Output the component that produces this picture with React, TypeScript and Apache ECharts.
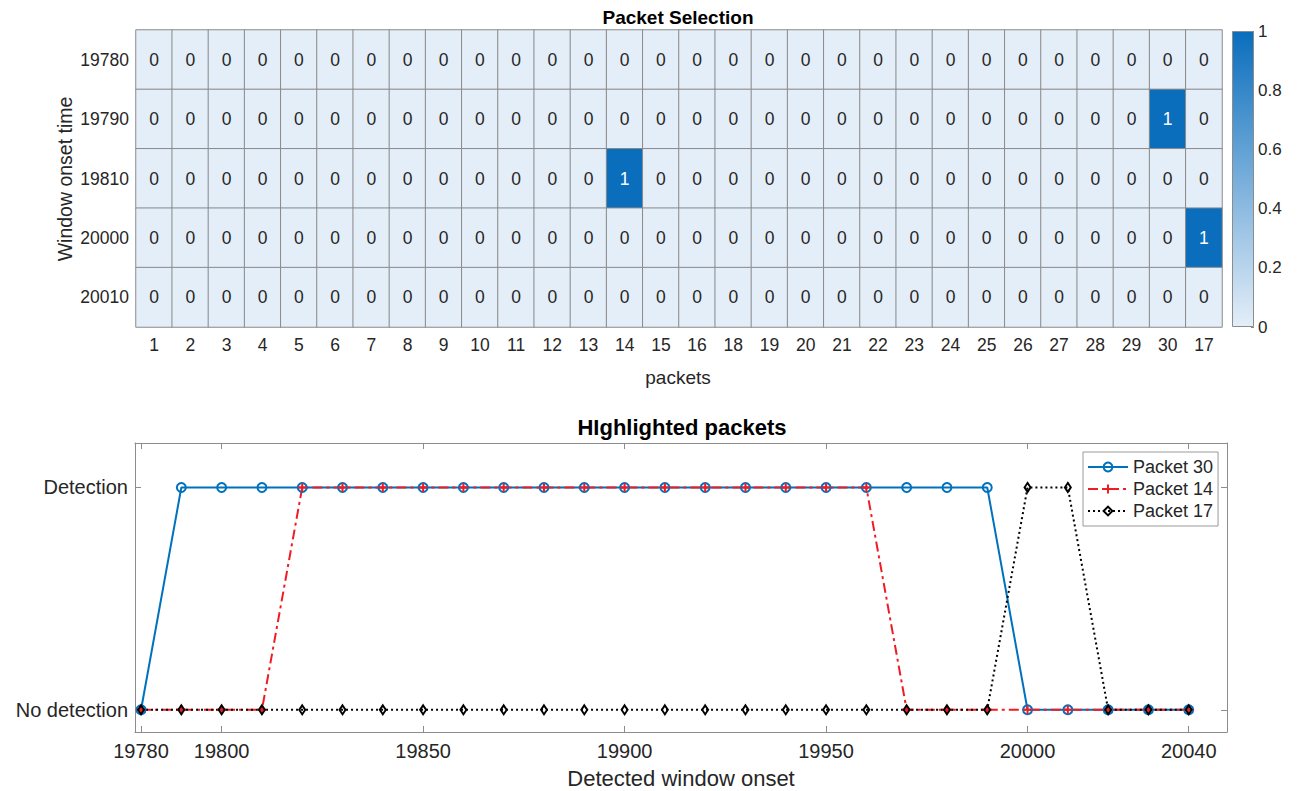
import React, { useEffect, useRef } from "react";
import * as echarts from "echarts";

// ---------- Data ----------
const packetLabels = [
  "1", "2", "3", "4", "5", "6", "7", "8", "9", "10",
  "11", "12", "13", "14", "15", "16", "18", "19", "20", "21",
  "22", "23", "24", "25", "26", "27", "28", "29", "30", "17",
];
const onsetRows = ["19780", "19790", "19810", "20000", "20010"];

const sel19780 = [0,0,0,0,0,0,0,0,0,0, 0,0,0,0,0,0,0,0,0,0, 0,0,0,0,0,0,0,0,0,0];
const sel19790 = [0,0,0,0,0,0,0,0,0,0, 0,0,0,0,0,0,0,0,0,0, 0,0,0,0,0,0,0,0,1,0];
const sel19810 = [0,0,0,0,0,0,0,0,0,0, 0,0,0,1,0,0,0,0,0,0, 0,0,0,0,0,0,0,0,0,0];
const sel20000 = [0,0,0,0,0,0,0,0,0,0, 0,0,0,0,0,0,0,0,0,0, 0,0,0,0,0,0,0,0,0,1];
const sel20010 = [0,0,0,0,0,0,0,0,0,0, 0,0,0,0,0,0,0,0,0,0, 0,0,0,0,0,0,0,0,0,0];
const selectionRows = [sel19780, sel19790, sel19810, sel20000, sel20010];

const colorbarRange = [0, 1];
const colorbarTicks = 0.2;

const onsetTimes = [
  19780, 19790, 19800, 19810, 19820, 19830, 19840, 19850, 19860, 19870,
  19880, 19890, 19900, 19910, 19920, 19930, 19940, 19950, 19960, 19970,
  19980, 19990, 20000, 20010, 20020, 20030, 20040,
];
const packet30 = [0, 1,1,1,1,1,1,1,1,1, 1,1,1,1,1,1,1,1,1,1, 1,1, 0,0,0,0,0];
const packet14 = [0,0,0,0, 1,1,1,1,1,1, 1,1,1,1,1,1,1,1,1, 0, 0,0,0,0,0,0,0];
const packet17 = [0,0,0,0,0,0,0,0,0,0, 0,0,0,0,0,0,0,0,0,0, 0,0, 1,1, 0,0,0];

const xTickValues = [19780, 19800, 19850, 19900, 19950, 20000, 20040];
const yTickValues = [0, 1];
const yTickNames = ["No detection", "Detection"];

// ---------- Styles ----------
const FONT = "'Liberation Sans', Arial, Helvetica, sans-serif";
const LIGHT = "#e4eef8";
const DARK = "#0a6ebd";
const AXIS_GRAY = "#8c8c8c";
const TEXT = "#262626";

export default function App() {
  const ref = useRef<HTMLDivElement>(null);

  useEffect(() => {
    if (!ref.current) return;
    const chart = echarts.init(ref.current, undefined, { renderer: "svg" });

    const heatData: any[] = [];
    selectionRows.forEach((row, r) => {
      row.forEach((v, c) => {
        heatData.push({
          value: [c, r, v],
          label: { color: v === 1 ? "#ffffff" : TEXT },
        });
      });
    });

    const xFmt = (v: number) => String(v);
    const yFmt = (v: number) => {
      const i = yTickValues.indexOf(v);
      return i >= 0 ? yTickNames[i] : "";
    };

    const option: any = {
      animation: false,
      textStyle: { fontFamily: FONT },
      grid: [
        { left: 136, top: 30, width: 1086, height: 297 },
        { left: 135, top: 443, width: 1092, height: 289 },
        { left: 1232, top: 31, width: 22, height: 296 },
      ],
      visualMap: {
        show: false,
        min: colorbarRange[0],
        max: colorbarRange[1],
        seriesIndex: 0,
        dimension: 2,
        inRange: { color: [LIGHT, DARK] },
      },
      legend: {
        orient: "vertical",
        left: 1083,
        top: 452,
        padding: [6, 5, 6, 4],
        itemGap: 4,
        itemWidth: 40,
        itemHeight: 11,
        borderColor: "#9a9a9a",
        borderWidth: 1,
        backgroundColor: "#ffffff",
        textStyle: { fontSize: 18, color: TEXT, fontFamily: FONT },
        data: ["Packet 30", "Packet 14", "Packet 17"],
      },
      xAxis: [
        {
          type: "category",
          gridIndex: 0,
          data: packetLabels,
          axisLine: { show: false },
          axisTick: { show: false },
          axisLabel: { interval: 0, fontSize: 17.5, color: TEXT, margin: 9, fontFamily: FONT },
          splitLine: { show: false },
        },
        {
          type: "value",
          gridIndex: 1,
          position: "bottom",
          min: 19778.5,
          max: 20049.5,
          axisLine: { show: true, onZero: false, lineStyle: { color: AXIS_GRAY, width: 1 } },
          axisTick: { show: true, inside: true, length: 6, customValues: xTickValues, lineStyle: { color: AXIS_GRAY } },
          axisLabel: { customValues: xTickValues, formatter: xFmt, fontSize: 20, color: TEXT, margin: 9, fontFamily: FONT },
          splitLine: { show: false },
        },
        {
          type: "value",
          gridIndex: 1,
          position: "top",
          min: 19778.5,
          max: 20049.5,
          axisLine: { show: true, onZero: false, lineStyle: { color: AXIS_GRAY, width: 1 } },
          axisTick: { show: true, inside: true, length: 6, customValues: xTickValues, lineStyle: { color: AXIS_GRAY } },
          axisLabel: { show: false, customValues: xTickValues },
          splitLine: { show: false },
        },
        {
          type: "category",
          gridIndex: 2,
          data: ["colorbar"],
          show: false,
        },
      ],
      yAxis: [
        {
          type: "category",
          gridIndex: 0,
          data: onsetRows,
          inverse: true,
          axisLine: { show: false },
          axisTick: { show: false },
          axisLabel: { fontSize: 17.5, color: TEXT, margin: 7, fontFamily: FONT },
          splitLine: { show: false },
        },
        {
          type: "value",
          gridIndex: 1,
          position: "left",
          min: -0.1,
          max: 1.2,
          axisLine: { show: true, onZero: false, lineStyle: { color: AXIS_GRAY, width: 1 } },
          axisTick: { show: true, inside: true, length: 6, customValues: yTickValues, lineStyle: { color: AXIS_GRAY } },
          axisLabel: { customValues: yTickValues, formatter: yFmt, fontSize: 20, color: TEXT, margin: 7, fontFamily: FONT },
          splitLine: { show: false },
        },
        {
          type: "value",
          gridIndex: 1,
          position: "right",
          min: -0.1,
          max: 1.2,
          axisLine: { show: true, onZero: false, lineStyle: { color: AXIS_GRAY, width: 1 } },
          axisTick: { show: true, inside: true, length: 6, customValues: yTickValues, lineStyle: { color: AXIS_GRAY } },
          axisLabel: { show: false, customValues: yTickValues },
          splitLine: { show: false },
        },
        {
          type: "value",
          gridIndex: 2,
          position: "right",
          min: colorbarRange[0],
          max: colorbarRange[1],
          interval: colorbarTicks,
          axisLine: { show: false },
          axisTick: { show: true, inside: true, length: 3, lineStyle: { color: AXIS_GRAY } },
          axisLabel: { fontSize: 17, color: TEXT, margin: 4, fontFamily: FONT },
          splitLine: { show: false },
        },
      ],
      series: [
        {
          type: "heatmap",
          xAxisIndex: 0,
          yAxisIndex: 0,
          data: heatData,
          label: { show: true, fontSize: 17.5, fontFamily: FONT },
          itemStyle: { borderColor: "#8a8a8a", borderWidth: 1 },
          emphasis: { disabled: true },
          silent: true,
        },
        {
          name: "Packet 30",
          type: "line",
          xAxisIndex: 1,
          yAxisIndex: 1,
          data: onsetTimes.map((t, i) => [t, packet30[i]]),
          symbol: "circle",
          symbolSize: 9,
          color: "#0072BD",
          lineStyle: { color: "#0072BD", width: 2 },
          itemStyle: { color: "rgba(255,255,255,0)", borderColor: "#0072BD", borderWidth: 2 },
          emphasis: { disabled: true },
          silent: true,
        },
        {
          name: "Packet 14",
          type: "line",
          xAxisIndex: 1,
          yAxisIndex: 1,
          data: onsetTimes.map((t, i) => [t, packet14[i]]),
          symbol: "path://M3.1,0h1.8v3.1h3.1v1.8h-3.1v3.1h-1.8v-3.1h-3.1v-1.8h3.1z",
          symbolSize: 9,
          color: "#f01c24",
          lineStyle: { color: "#f01c24", width: 2, type: [10, 4, 3, 4] },
          itemStyle: { color: "#f01c24", borderWidth: 0 },
          emphasis: { disabled: true },
          silent: true,
        },
        {
          name: "Packet 17",
          type: "line",
          xAxisIndex: 1,
          yAxisIndex: 1,
          data: onsetTimes.map((t, i) => [t, packet17[i]]),
          symbol: "diamond",
          symbolSize: [6, 9],
          color: "#000000",
          lineStyle: { color: "#000000", width: 2, type: [2, 3] },
          itemStyle: { color: "rgba(255,255,255,0)", borderColor: "#000000", borderWidth: 2 },
          emphasis: { disabled: true },
          silent: true,
        },
        {
          type: "bar",
          xAxisIndex: 3,
          yAxisIndex: 3,
          data: [colorbarRange[1]],
          barWidth: "100%",
          itemStyle: {
            color: {
              type: "linear",
              x: 0, y: 0, x2: 0, y2: 1,
              colorStops: [
                { offset: 0, color: DARK },
                { offset: 1, color: LIGHT },
              ],
            },
            borderColor: AXIS_GRAY,
            borderWidth: 1,
          },
          emphasis: { disabled: true },
          silent: true,
        },
      ],
      graphic: [
        {
          type: "text", x: 678, y: 17,
          style: { text: "Packet Selection", fontSize: 19, fontWeight: "bold", fontFamily: FONT, fill: "#000",
            align: "center", verticalAlign: "middle", textAlign: "center", textVerticalAlign: "middle" },
        },
        {
          type: "text", x: 678, y: 377,
          style: { text: "packets", fontSize: 19, fontFamily: FONT, fill: TEXT,
            align: "center", verticalAlign: "middle", textAlign: "center", textVerticalAlign: "middle" },
        },
        {
          type: "text", x: 65, y: 179, rotation: Math.PI / 2,
          style: { text: "Window onset time", fontSize: 19.5, fontFamily: FONT, fill: TEXT,
            align: "center", verticalAlign: "middle", textAlign: "center", textVerticalAlign: "middle" },
        },
        {
          type: "text", x: 682, y: 427,
          style: { text: "HIghlighted packets", fontSize: 22, fontWeight: "bold", fontFamily: FONT, fill: "#000",
            align: "center", verticalAlign: "middle", textAlign: "center", textVerticalAlign: "middle" },
        },
        {
          type: "text", x: 681, y: 778,
          style: { text: "Detected window onset", fontSize: 22, fontFamily: FONT, fill: TEXT,
            align: "center", verticalAlign: "middle", textAlign: "center", textVerticalAlign: "middle" },
        },
      ],
    };

    chart.setOption(option);
    return () => chart.dispose();
  }, []);

  return (
    <div
      ref={ref}
      style={{ position: "absolute", left: 0, top: 0, width: 1298, height: 791, background: "#fff" }}
    />
  );
}
